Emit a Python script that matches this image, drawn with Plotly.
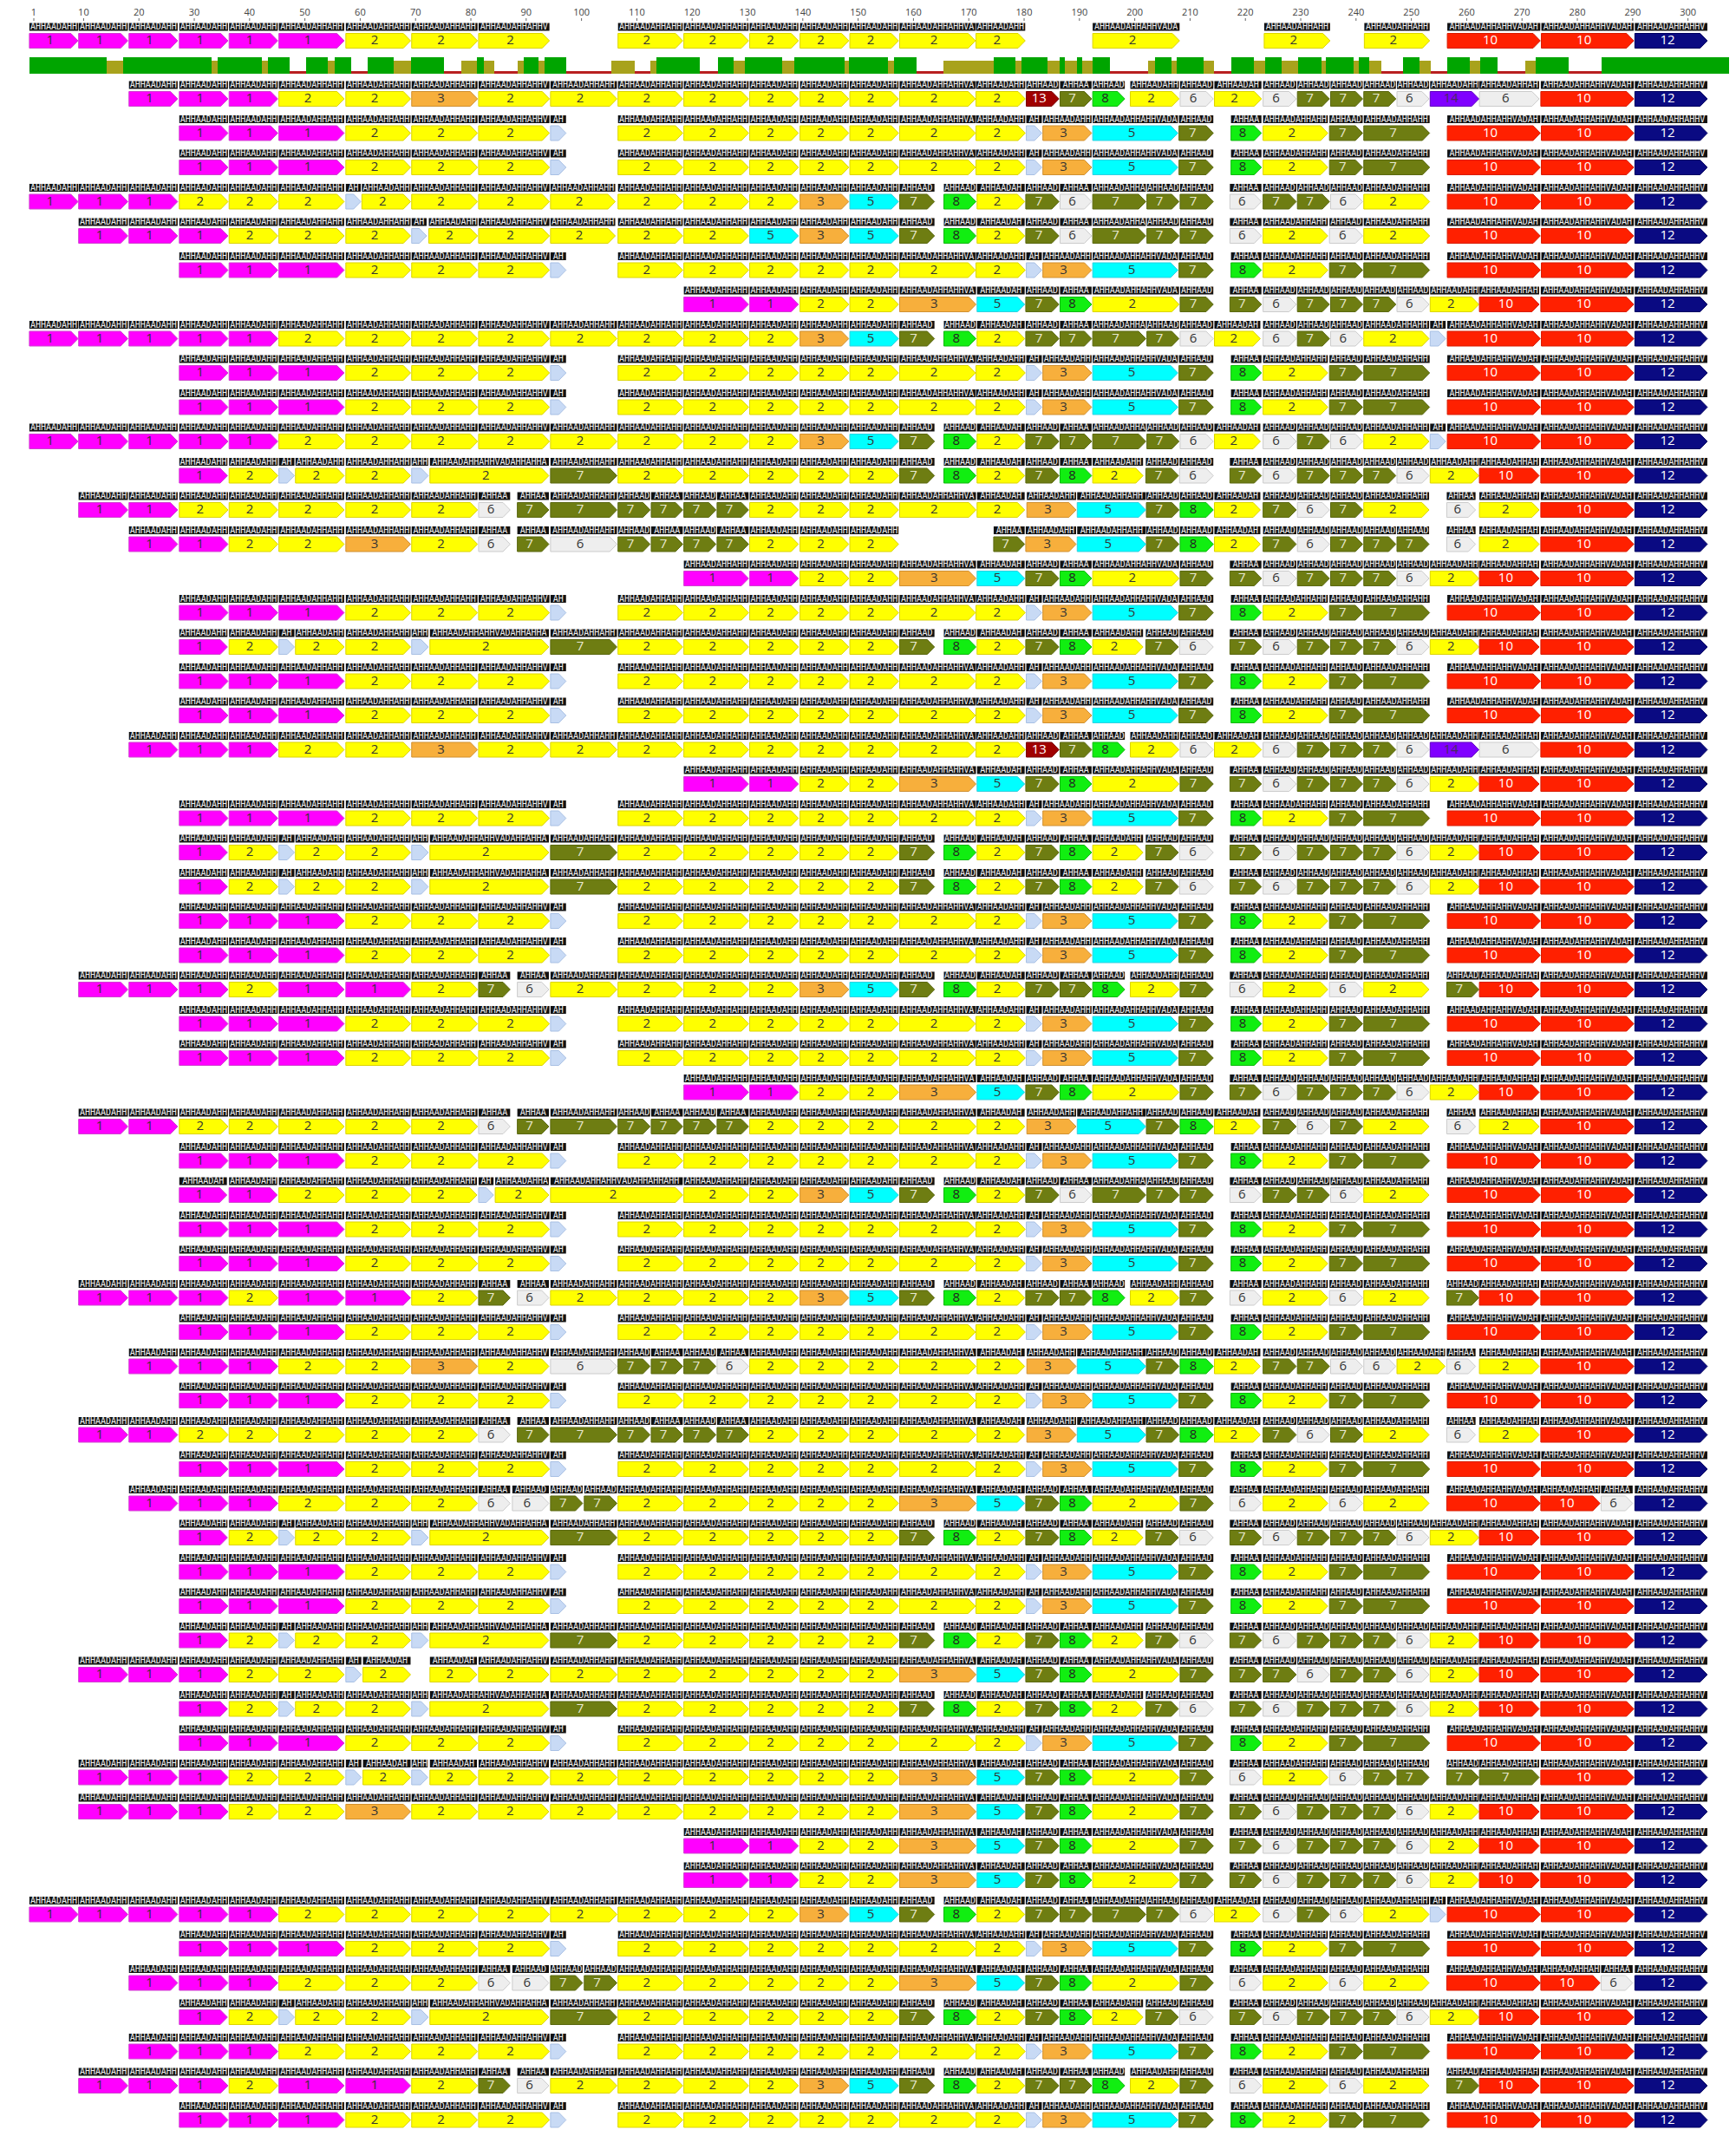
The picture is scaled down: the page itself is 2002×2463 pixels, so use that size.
import plotly.graph_objects as go

# ---------------- data ----------------
ruler_ticks = [1] + list(range(10, 301, 10))

R_END = [(256.5, 273.3, '10'), (273.5, 290.2, '10'), (290.4, 303.5, '12')]
R_END2 = [(253.4, 262.2, '2'), (262.3, 273.1, '10'), (273.4, 290.2, '10'), (290.4, 303.5, '12')]
M2 = [(106.6, 118.3, '2'), (118.5, 130.2, '2'), (130.4, 139.2, '2'), (139.5, 148.3, '2'), (148.5, 157.3, '2')]
A_RIGHT = [(157.5, 171.2, '2'), (171.3, 180.2, '2'), (180.4, 183.2, ''), (183.4, 192.2, '3'), (192.4, 207.8, '5'),
           (208.0, 214.2, '7'), (217.4, 222.9, '8'), (223.2, 234.9, '2'), (235.2, 241.2, '7'), (241.4, 253.3, '7')] + R_END
C_MID = [(157.5, 171.3, '3'), (171.5, 180.1, '5'), (180.3, 186.3, '7'), (186.5, 192.2, '8'), (192.4, 208.0, '2'), (208.2, 214.2, '7')]
C_RIGHT = C_MID + [(217.2, 222.9, '7'), (223.2, 229.2, '6'), (229.4, 235.2, '7'), (235.4, 241.2, '7'), (241.4, 247.2, '7'), (247.4, 253.2, '6')] + R_END2
G_RIGHT = [(157.5, 163.8, '7'), (165.5, 171.3, '8'), (171.5, 180.1, '2'), (180.3, 186.3, '7'), (186.5, 192.2, '7'),
           (192.4, 202.0, '7'), (202.2, 208.0, '7'), (208.2, 214.2, '6')]

T_R0 = [(0.2, 9.0, '1'), (9.1, 18.0, '1'), (18.2, 27.0, '1'), (27.3, 36.1, '1'), (36.3, 45.1, '1'), (45.3, 57.1, '1'),
        (57.4, 69.1, '2'), (69.3, 81.2, '2'), (81.4, 94.2, '2')] + M2 + [(157.5, 171.2, '2'), (171.3, 180.2, '2'),
        (192.4, 208.1, '2'), (223.4, 235.3, '2'), (241.5, 253.3, '2')] + R_END
T_R1 = [(18.2, 27.0, '1'), (27.3, 36.1, '1'), (36.3, 45.1, '1'), (45.3, 57.1, '2'), (57.4, 69.1, '2'), (69.3, 81.2, '3'),
        (81.4, 94.2, '2'), (94.4, 106.4, '2')] + M2 + [(157.5, 171.2, '2'), (171.3, 180.2, '2'), (180.4, 186.3, '13'),
        (186.5, 192.2, '7'), (192.4, 198.2, '8'), (199.2, 208.0, '2'), (208.2, 214.2, '6'), (214.4, 222.9, '2'),
        (223.2, 229.2, '6'), (229.4, 235.2, '7'), (235.4, 241.2, '7'), (241.4, 247.2, '7'), (247.4, 253.2, '6'),
        (253.4, 262.2, '14'), (262.3, 273.1, '6'), (273.4, 290.2, '10'), (290.4, 303.5, '12')]
T_A = [(27.3, 36.1, '1'), (36.3, 45.1, '1'), (45.3, 57.1, '1'), (57.4, 69.1, '2'), (69.3, 81.2, '2'),
       (81.4, 94.2, '2'), (94.4, 97.2, '')] + M2 + A_RIGHT
T_P = [(18.2, 27.0, '1'), (27.3, 36.1, '1'), (36.3, 45.1, '1'), (45.3, 57.1, '2'), (57.4, 69.1, '2'), (69.3, 81.2, '2'),
       (81.4, 94.2, '2'), (94.4, 97.2, '')] + M2 + A_RIGHT
T_B = [(0.2, 9.0, '1'), (9.1, 18.0, '1'), (18.2, 27.0, '1'), (27.3, 36.1, '2'), (36.3, 45.1, '2'), (45.3, 57.1, '2'),
       (57.4, 60.1, ''), (60.3, 69.1, '2'), (69.3, 81.2, '2'), (81.4, 94.2, '2'), (94.4, 106.1, '2'),
       (106.6, 118.3, '2'), (118.5, 130.2, '2'), (130.4, 139.2, '2'), (139.5, 148.3, '3'), (148.5, 157.3, '5')] + G_RIGHT[:4] + \
      [(186.5, 192.2, '6'), (192.4, 202.0, '7'), (202.2, 208.0, '7'), (208.2, 214.2, '7'), (217.2, 222.9, '6'),
       (223.2, 229.2, '7'), (229.4, 235.2, '7'), (235.4, 241.2, '6'), (241.4, 253.3, '2')] + R_END
T_B2 = [(9.1, 18.0, '1'), (18.2, 27.0, '1'), (27.3, 36.1, '1'), (36.3, 45.1, '2'), (45.3, 57.1, '2'), (57.4, 69.1, '2'),
        (69.3, 72.0, ''), (72.4, 81.2, '2'), (81.4, 94.2, '2'), (94.4, 106.1, '2'),
        (106.6, 118.3, '2'), (118.5, 130.2, '2'), (130.4, 139.2, '5'), (139.5, 148.3, '3'), (148.5, 157.3, '5')] + G_RIGHT[:4] + \
       [(186.5, 192.2, '6'), (192.4, 202.0, '7'), (202.2, 208.0, '7'), (208.2, 214.2, '7'), (217.2, 222.9, '6'),
        (223.2, 234.9, '2'), (235.2, 241.2, '6'), (241.4, 253.3, '2')] + R_END
T_C = [(118.5, 130.2, '1'), (130.4, 139.2, '1'), (139.5, 148.3, '2'), (148.5, 157.3, '2')] + C_RIGHT
T_G = [(0.2, 9.0, '1'), (9.1, 18.0, '1'), (18.2, 27.0, '1'), (27.3, 36.1, '1'), (36.3, 45.1, '1'), (45.3, 57.1, '2'),
       (57.4, 69.1, '2'), (69.3, 81.2, '2'), (81.4, 94.2, '2'), (94.4, 106.4, '2'), (106.6, 118.3, '2'),
       (118.5, 130.2, '2'), (130.4, 139.2, '2'), (139.5, 148.3, '3'), (148.5, 157.3, '5')] + G_RIGHT + \
      [(214.4, 222.7, '2'), (223.2, 229.2, '6'), (229.4, 235.2, '7'), (235.4, 241.2, '6'), (241.4, 253.2, '2'),
       (253.4, 256.2, '')] + R_END
T_D = [(27.3, 36.0, '1'), (36.3, 45.1, '2'), (45.3, 48.1, ''), (48.3, 57.1, '2'), (57.4, 69.1, '2'), (69.3, 72.3, ''),
       (72.6, 94.1, '2'), (94.4, 106.4, '7')] + M2 + [(157.5, 163.8, '7'), (165.5, 171.3, '8'), (171.5, 180.1, '2'),
       (180.3, 186.3, '7'), (186.5, 192.2, '8'), (192.4, 201.5, '2'), (202.0, 207.9, '7'), (208.1, 214.2, '6'),
       (217.2, 222.9, '7'), (223.2, 229.2, '6'), (229.4, 235.2, '7'), (235.4, 241.2, '7'), (241.4, 247.2, '7'),
       (247.4, 253.2, '6')] + R_END2
E_LEFT = [(9.1, 18.0, '1'), (18.2, 27.0, '1'), (27.3, 36.1, '2'), (36.3, 45.1, '2'), (45.3, 57.1, '2'), (57.4, 69.1, '2'),
          (69.3, 81.2, '2'), (81.4, 87.1, '6'), (88.4, 94.1, '7'), (94.4, 106.4, '7'), (106.6, 112.4, '7'),
          (112.6, 118.3, '7'), (118.5, 124.3, '7'), (124.5, 130.2, '7'), (130.4, 139.2, '2'), (139.5, 148.3, '2'),
          (148.5, 157.3, '2')]
E_MID = [(157.5, 171.3, '2'), (171.5, 180.1, '2'), (180.5, 189.4, '3'), (189.6, 202.0, '5'), (202.1, 208.0, '7'),
         (208.2, 214.2, '8'), (214.4, 222.7, '2')]
T_E = E_LEFT + E_MID + [(223.2, 229.2, '7'), (229.4, 235.2, '6'), (235.4, 241.2, '7'), (241.4, 253.2, '2'),
                        (256.4, 261.6, '6'), (262.3, 273.1, '2'), (273.4, 290.2, '10'), (290.4, 303.5, '12')]
T_F = [(18.2, 27.0, '1'), (27.3, 36.1, '1'), (36.3, 45.1, '2'), (45.3, 57.1, '2'), (57.4, 69.1, '3'), (69.3, 81.2, '2'),
       (81.4, 87.1, '6'), (88.4, 94.1, '7'), (94.4, 106.4, '6'), (106.6, 112.4, '7'), (112.6, 118.3, '7'),
       (118.5, 124.3, '7'), (124.5, 130.2, '7'), (130.4, 139.2, '2'), (139.5, 148.3, '2'), (148.5, 157.3, '2'),
       (174.5, 180.1, '7'), (180.3, 189.4, '3'), (189.6, 202.0, '5'), (202.1, 208.0, '7'), (208.2, 214.2, '8'),
       (214.4, 222.7, '2'), (223.2, 229.2, '7'), (229.4, 235.2, '6'), (235.4, 241.2, '7'), (241.4, 247.2, '7'),
       (247.4, 253.2, '7'), (256.4, 261.6, '6'), (262.3, 273.1, '2'), (273.4, 290.2, '10'), (290.4, 303.5, '12')]
T_K = [(18.2, 27.0, '1'), (27.3, 36.1, '1'), (36.3, 45.1, '1'), (45.3, 57.1, '2'), (57.4, 69.1, '2'), (69.3, 81.2, '3'),
       (81.4, 94.1, '2'), (94.4, 106.4, '6'), (106.6, 112.4, '7'), (112.6, 118.3, '7'), (118.5, 124.3, '7'),
       (124.5, 130.2, '6'), (130.4, 139.2, '2'), (139.5, 148.3, '2'), (148.5, 157.3, '2')] + E_MID + \
      [(223.2, 229.2, '7'), (229.4, 235.2, '7'), (235.4, 241.2, '6'), (241.4, 247.2, '6'), (247.4, 256.1, '2'),
       (256.4, 261.6, '6'), (262.3, 273.1, '2'), (273.4, 290.2, '10'), (290.4, 303.5, '12')]
T_I = [(9.1, 18.0, '1'), (18.2, 27.0, '1'), (27.3, 36.1, '1'), (36.3, 45.1, '2'), (45.3, 57.1, '1'), (57.4, 69.1, '1'),
       (69.3, 81.2, '2'), (81.4, 87.1, '7'), (88.4, 94.1, '6'), (94.4, 106.4, '2'), (106.6, 118.3, '2'),
       (118.5, 130.2, '2'), (130.4, 139.2, '2'), (139.5, 148.3, '3'), (148.5, 157.3, '5'),
       (157.5, 163.8, '7'), (165.5, 171.3, '8'), (171.5, 180.1, '2'), (180.3, 186.3, '7'), (186.5, 192.2, '7'),
       (192.4, 198.2, '8'), (199.2, 208.0, '2'), (208.2, 214.2, '7'), (217.2, 222.9, '6'), (223.2, 234.9, '2'),
       (235.2, 241.2, '6'), (241.4, 253.2, '2'), (256.4, 262.2, '7'), (262.3, 273.1, '10'), (273.4, 290.2, '10'),
       (290.4, 303.5, '12')]
T_J = [(27.3, 35.9, '1'), (36.3, 45.0, '1'), (45.3, 57.1, '2'), (57.4, 69.1, '2'), (69.3, 81.1, '2'), (81.4, 84.1, ''),
       (84.4, 94.1, '2'), (94.4, 118.3, '2'), (118.5, 130.2, '2'), (130.4, 139.2, '2'), (139.5, 148.3, '3'),
       (148.5, 157.3, '5'), (157.5, 163.8, '7'), (165.5, 171.3, '8'), (171.5, 180.1, '2'), (180.3, 186.3, '7'),
       (186.5, 192.2, '6'), (192.4, 202.0, '7'), (202.2, 208.0, '7'), (208.2, 214.2, '7'), (217.2, 222.9, '6'),
       (223.2, 229.2, '7'), (229.4, 235.2, '7'), (235.4, 241.2, '6'), (241.4, 253.2, '2')] + R_END
T_L = [(18.2, 27.0, '1'), (27.3, 36.1, '1'), (36.3, 45.1, '1'), (45.3, 57.1, '2'), (57.4, 69.1, '2'), (69.3, 81.2, '2'),
       (81.4, 87.1, '6'), (87.5, 94.1, '6'), (94.4, 100.2, '7'), (100.5, 106.4, '7')] + M2 + C_MID + \
      [(217.2, 222.9, '6'), (223.2, 234.9, '2'), (235.2, 241.2, '6'), (241.4, 253.2, '2'), (256.4, 273.3, '10'),
       (273.4, 284.1, '10'), (284.3, 290.0, '6'), (290.4, 303.5, '12')]
T_M = [(9.1, 18.0, '1'), (18.2, 27.0, '1'), (27.3, 36.1, '1'), (36.3, 45.1, '2'), (45.3, 57.1, '2'), (57.4, 60.2, ''),
       (60.5, 69.1, '2'), (72.6, 81.1, '2'), (81.4, 94.1, '2'), (94.4, 106.4, '2')] + M2 + C_MID + \
      [(217.2, 222.9, '7'), (223.2, 229.2, '7'), (229.4, 235.2, '6'), (235.4, 241.2, '7'), (241.4, 247.2, '7'),
       (247.4, 253.2, '6')] + R_END2
T_N = [(9.1, 18.0, '1'), (18.2, 27.0, '1'), (27.3, 36.1, '1'), (36.3, 45.1, '2'), (45.3, 57.1, '2'), (57.4, 60.2, ''),
       (60.5, 69.1, '2'), (69.3, 72.2, ''), (72.6, 81.1, '2'), (81.4, 94.1, '2'), (94.4, 106.4, '2')] + M2 + C_MID + \
      [(217.2, 222.9, '6'), (223.2, 234.9, '2'), (235.2, 241.2, '6'), (241.4, 247.2, '7'), (247.4, 253.2, '7'),
       (256.4, 262.2, '7'), (262.3, 273.1, '7'), (273.4, 290.2, '10'), (290.4, 303.5, '12')]
T_O = [(9.1, 18.0, '1'), (18.2, 27.0, '1'), (27.3, 36.1, '1'), (36.3, 45.1, '2'), (45.3, 57.1, '2'), (57.4, 69.1, '3'),
       (69.3, 81.2, '2'), (81.4, 94.1, '2'), (94.4, 106.4, '2')] + M2 + C_RIGHT

templates = {'R0': T_R0, 'R1': T_R1, 'A': T_A, 'B': T_B, 'B2': T_B2, 'C': T_C, 'D': T_D, 'E': T_E, 'F': T_F,
             'G': T_G, 'I': T_I, 'J': T_J, 'K': T_K, 'L': T_L, 'M': T_M, 'N': T_N, 'O': T_O, 'P': T_P}

row_types = ['R0', 'R1', 'A', 'A', 'B', 'B2', 'A', 'C', 'G', 'A', 'A', 'G', 'D', 'E', 'F', 'C', 'A', 'D', 'A', 'A',
             'R1', 'C', 'A', 'D', 'D', 'A', 'A', 'I', 'A', 'A', 'C', 'E', 'A', 'J', 'A', 'A', 'I', 'A', 'K', 'A',
             'E', 'A', 'L', 'D', 'A', 'A', 'D', 'M', 'D', 'A', 'N', 'O', 'C', 'C', 'G', 'A', 'L', 'D', 'P', 'I', 'A']

# identity graph: (start, end, level) g=high, o=medium, r=low
identity = [(0.2, 14.2, 'g'), (14.2, 17.1, 'o'), (17.1, 33.2, 'g'), (33.2, 34.2, 'o'), (34.2, 42.3, 'g'),
            (42.3, 43.3, 'o'), (43.3, 47.2, 'g'), (47.2, 50.2, 'r'), (50.2, 54.2, 'g'), (54.2, 55.4, 'o'),
            (55.4, 58.4, 'g'), (58.4, 61.3, 'r'), (61.3, 66.1, 'g'), (66.1, 69.2, 'o'), (69.2, 75.2, 'g'),
            (75.2, 78.3, 'r'), (78.3, 81.1, 'o'), (81.1, 82.4, 'g'), (82.4, 84.3, 'o'), (84.3, 88.5, 'r'),
            (88.5, 89.5, 'o'), (89.5, 92.3, 'g'), (92.3, 93.3, 'o'), (93.3, 97.3, 'g'), (97.3, 105.4, 'r'),
            (105.4, 109.6, 'o'), (109.6, 112.5, 'r'), (112.5, 113.5, 'o'), (113.5, 121.4, 'g'), (121.4, 124.6, 'r'),
            (124.6, 127.5, 'g'), (127.5, 129.5, 'o'), (129.5, 136.3, 'g'), (136.3, 138.4, 'o'), (138.4, 147.5, 'g'),
            (147.5, 148.4, 'o'), (148.4, 155.4, 'g'), (155.4, 156.5, 'o'), (156.5, 160.5, 'g'), (160.5, 165.4, 'r'),
            (165.4, 174.5, 'o'), (174.5, 178.5, 'g'), (178.5, 179.6, 'o'), (179.6, 184.3, 'g'), (184.3, 186.4, 'o'),
            (186.4, 187.4, 'g'), (187.4, 189.5, 'o'), (189.5, 190.5, 'g'), (190.5, 192.4, 'o'), (192.4, 195.5, 'g'),
            (195.5, 202.4, 'r'), (202.4, 203.6, 'o'), (203.6, 206.6, 'g'), (206.6, 207.6, 'o'), (207.6, 212.5, 'g'),
            (212.5, 214.4, 'o'), (214.4, 217.4, 'r'), (217.4, 221.6, 'g'), (221.6, 223.5, 'o'), (223.5, 226.5, 'g'),
            (226.5, 229.5, 'o'), (229.5, 233.7, 'g'), (233.7, 234.6, 'o'), (234.6, 239.6, 'g'), (239.6, 240.5, 'o'),
            (240.5, 242.4, 'g'), (242.4, 244.5, 'o'), (244.5, 248.5, 'r'), (248.5, 251.5, 'g'), (251.5, 253.5, 'o'),
            (253.5, 256.5, 'r'), (256.5, 260.5, 'g'), (260.5, 262.5, 'o'), (262.5, 265.5, 'g'), (265.5, 270.6, 'r'),
            (270.6, 272.5, 'o'), (272.5, 278.4, 'g'), (278.4, 284.4, 'r'), (284.4, 307.4, 'g')]

# ---------------- styles ----------------
FILL = {'1': '#FF00FF', '2': '#FFFF00', '3': '#F7AF3C', '5': '#00FFFF', '6': '#EEEEEE', '7': '#6E7D12',
        '8': '#11EE11', '10': '#FF2000', '12': '#0A0A82', '13': '#A00000', '14': '#8000FF', '': '#C8DAF5'}
EDGE = {'1': '#D040D0', '2': '#DCD400', '3': '#D09030', '5': '#30D0E0', '6': '#CCCCCC', '7': '#5A6810',
        '8': '#10B810', '10': '#D81C00', '12': '#000060', '13': '#780000', '14': '#6000C0', '': '#A8C0E4'}
TXT = {'1': '#333333', '2': '#333333', '3': '#333333', '5': '#333333', '6': '#333333', '7': '#E8E8D0',
       '8': '#222222', '10': '#FFFFFF', '12': '#FFFFFF', '13': '#FFFFFF', '14': '#4a2a60', '': '#000000'}
ID_COL = {'g': '#00A500', 'o': '#A8A21C', 'r': '#B82020'}
ID_H = {'g': 1.0, 'o': 0.8, 'r': 0.14}

PX = 6.38
X0 = 1 - 31 / PX
X1 = X0 + 2002 / PX
H = 8.5


def row_y(r):
    return 39 if r == 0 else 106 + (r - 1) * 39.5


fig = go.Figure()

# identity bars
fig.add_trace(go.Bar(x=[(s + e) / 2 for s, e, _ in identity], width=[e - s for s, e, _ in identity],
                     y=[-19 * ID_H[l] for _, _, l in identity], base=[77] * len(identity),
                     marker=dict(color=[ID_COL[l] for _, _, l in identity], line=dict(width=0)),
                     hoverinfo='skip', showlegend=False))

# sequence strips
sx, sy = [], []
seq_x, seq_y, seq_t = [], [], []
motif = 'AHHAADAHHAHHVADAHHAHH'
for r, t in enumerate(row_types):
    yc = row_y(r) - 16
    for s, e, lab in templates[t]:
        sx += [s, e, e, s, s, None]
        sy += [yc - 4.5, yc - 4.5, yc + 4.5, yc + 4.5, yc - 4.5, None]
        n = max(1, int((e - s) * PX / 6.1))
        seq_x.append((s + e) / 2); seq_y.append(yc + 0.5); seq_t.append((motif * 4)[:n])
fig.add_trace(go.Scatter(x=sx, y=sy, mode='lines', fill='toself', fillcolor='#111111',
                         line=dict(width=0, color='#111111'), hoverinfo='skip', showlegend=False))
fig.add_trace(go.Scatter(x=seq_x, y=seq_y, mode='text', text=seq_t,
                         textfont=dict(family='DejaVu Sans Mono', size=10, color='#F0F0F0'),
                         hoverinfo='skip', showlegend=False))

# arrows grouped by feature type
groups = {}
labels = {}
for r, t in enumerate(row_types):
    y = row_y(r)
    for s, e, lab in templates[t]:
        tip = min(1.3, (e - s) * 0.5)
        g = groups.setdefault(lab, ([], []))
        g[0].extend([s, e - tip, e, e - tip, s, s, None])
        g[1].extend([y - H, y - H, y, y + H, y + H, y - H, None])
        if lab:
            L = labels.setdefault(lab, ([], []))
            L[0].append((s + e - tip) / 2); L[1].append(y + 0.5)

for lab, (xs, ys) in groups.items():
    fig.add_trace(go.Scatter(x=xs, y=ys, mode='lines', fill='toself', fillcolor=FILL[lab],
                             line=dict(width=1, color=EDGE[lab]), hoverinfo='skip', showlegend=False))
for lab, (xs, ys) in labels.items():
    fig.add_trace(go.Scatter(x=xs, y=ys, mode='text', text=[lab] * len(xs),
                             textfont=dict(family='Open Sans', size=15, color=TXT[lab]),
                             hoverinfo='skip', showlegend=False))

# ruler
tx, ty = [], []
for p in ruler_ticks:
    tx += [p, p, None]; ty += [13, 16, None]
fig.add_trace(go.Scatter(x=tx, y=ty, mode='lines', line=dict(color='#666666', width=1),
                         hoverinfo='skip', showlegend=False))
fig.add_trace(go.Scatter(x=ruler_ticks, y=[7] * len(ruler_ticks), mode='text',
                         text=[str(p) for p in ruler_ticks],
                         textfont=dict(family='Open Sans', size=11, color='#444444'),
                         hoverinfo='skip', showlegend=False))
fig.add_trace(go.Scatter(x=[309.5], y=[7], mode='text', text=['3'],
                         textfont=dict(family='Open Sans', size=11, color='#444444'),
                         hoverinfo='skip', showlegend=False))

fig.update_layout(width=2002, height=2463, margin=dict(l=0, r=0, t=0, b=0),
                  plot_bgcolor='white', paper_bgcolor='white', bargap=0,
                  xaxis=dict(range=[X0, X1], visible=False, fixedrange=True),
                  yaxis=dict(range=[2463, 0], visible=False, fixedrange=True))
fig.write_html("out.html")
